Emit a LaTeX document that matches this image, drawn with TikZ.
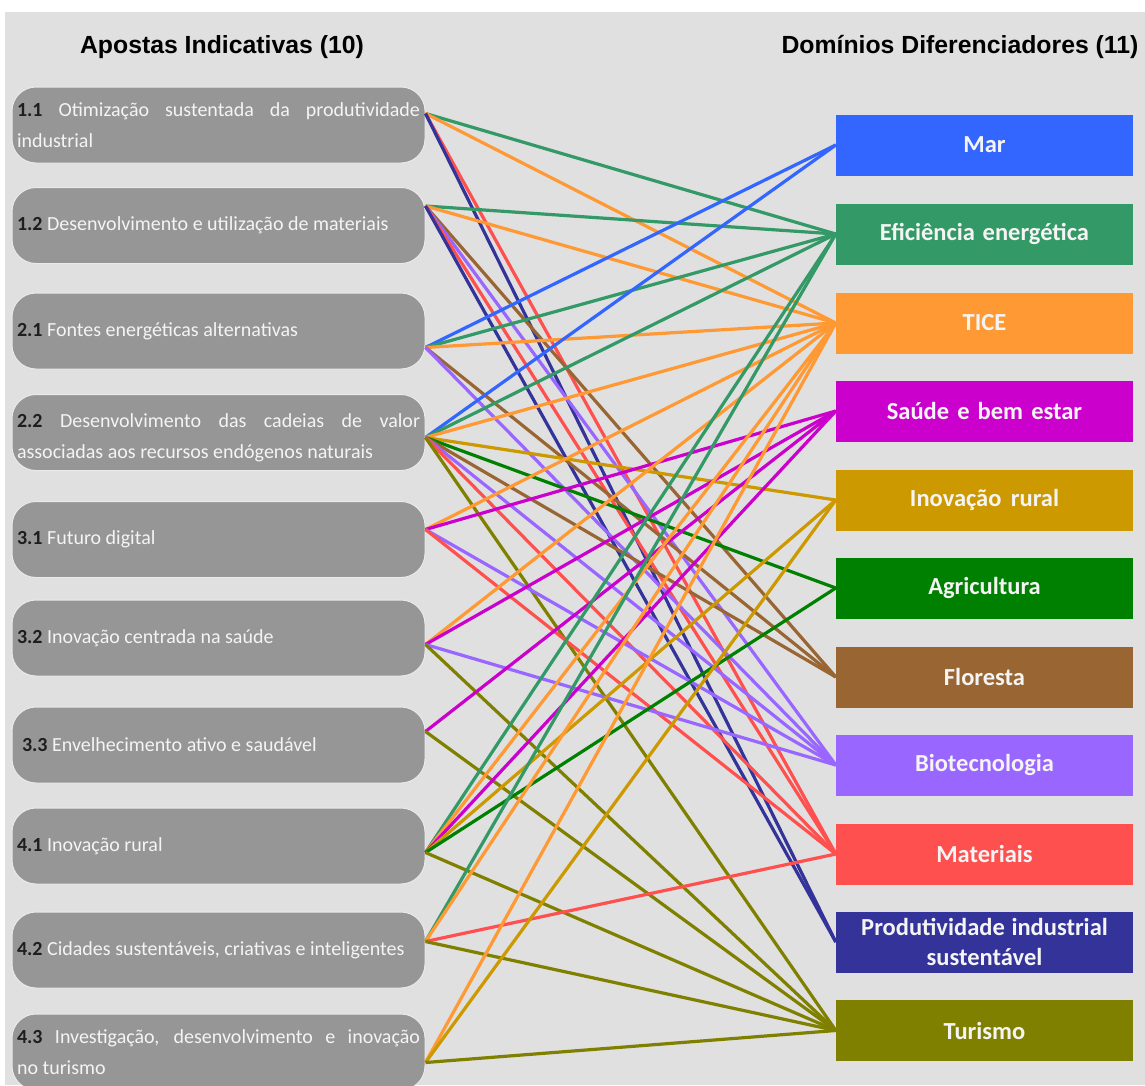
\documentclass[tikz,border=0pt]{standalone}
\usepackage{fontspec}
\setmainfont{Carlito}
\newfontfamily\headfont{Liberation Sans}

% palette
\definecolor{bgcol}{HTML}{E0E0E0}
\definecolor{boxgray}{HTML}{969696}
\definecolor{numcol}{HTML}{1E1E1E}
\definecolor{txtwhite}{HTML}{F4F4F4}
\definecolor{colmar}{HTML}{3366FF}
\definecolor{colefi}{HTML}{339966}
\definecolor{coltice}{HTML}{FF9933}
\definecolor{colsaude}{HTML}{CC00CC}
\definecolor{colinov}{HTML}{CC9900}
\definecolor{colagri}{HTML}{008000}
\definecolor{colflor}{HTML}{996633}
\definecolor{colbio}{HTML}{9966FF}
\definecolor{colmat}{HTML}{FF5050}
\definecolor{colprod}{HTML}{333399}
\definecolor{coltur}{HTML}{808000}

\newcommand{\num}[1]{\textcolor{numcol}{\bfseries #1}}
% restore the font's own (stretchable) interword glue inside nodes
\newcommand{\natspace}{\spaceskip=0pt\xspaceskip=0pt\relax}

\begin{document}
\begin{tikzpicture}[x=1pt,y=-1pt,
  apbox/.style={rectangle, rounded corners=24pt, fill=boxgray,
    draw=white!80!boxgray, line width=1pt,
    minimum width=413pt, minimum height=76pt, text width=403pt,
    inner xsep=5pt, inner ysep=0pt, align=left, text=txtwhite,
    font=\fontsize{20}{31}\selectfont,
    execute at begin node=\natspace},
  dombox/.style={rectangle, minimum width=297pt, minimum height=61pt,
    text width=287pt, inner sep=0pt, align=center, text=txtwhite,
    font=\fontsize{24.5}{30}\selectfont\bfseries,
    execute at begin node=\natspace},
  heading/.style={font=\headfont\fontsize{24.8}{28}\selectfont\bfseries, text=black},
  link/.style={line width=3.2pt}]

\useasboundingbox (0,0) rectangle (1145,1085);
\fill[bgcol] (5,12) rectangle (1145,1085);

% column headings
\node[heading] (hleft) at (222,47) {Apostas Indicativas (10)};
\node[heading] (hright) at (960,47) {Domínios Diferenciadores (11)};

% indicative bets (left column)
\node[apbox] (b11) at (218.5,125)
  {\makebox[403pt][s]{\num{1.1} Otimização sustentada da produtividade}\\industrial};
\node[apbox] (b12) at (218.5,225.5) {\num{1.2} Desenvolvimento e utilização de materiais};
\node[apbox] (b21) at (218.5,331) {\num{2.1} Fontes energéticas alternativas};
\node[apbox] (b22) at (218.5,432.5)
  {\makebox[403pt][s]{\rule{0pt}{25pt}\num{2.2} Desenvolvimento das cadeias de valor}\\associadas aos recursos endógenos naturais};
\node[apbox] (b31) at (218.5,539.5) {\num{3.1} Futuro digital};
\node[apbox] (b32) at (218.5,638) {\num{3.2} Inovação centrada na saúde};
\node[apbox] (b33) at (218.5,745) {\hspace*{5pt}\num{3.3} Envelhecimento ativo e saudável};
\node[apbox] (b41) at (218.5,846) {\num{4.1} Inovação rural};
\node[apbox] (b42) at (218.5,950) {\num{4.2} Cidades sustentáveis, criativas e inteligentes};
\node[apbox] (b43) at (218.5,1052)
  {\makebox[403pt][s]{\num{4.3} Investigação, desenvolvimento e inovação}\\no turismo};

% differentiating domains (right column)
\node[dombox, fill=colmar]   (dmar)   at (984.5,145)   {Mar};
\node[dombox, fill=colefi]   (defi)   at (984.5,234)   {Eficiência energética};
\node[dombox, fill=coltice]  (dtice)  at (984.5,323)   {TICE};
\node[dombox, fill=colsaude] (dsaude) at (984.5,411)   {Saúde e bem estar};
\node[dombox, fill=colinov]  (dinov)  at (984.5,500)   {Inovação rural};
\node[dombox, fill=colagri]  (dagri)  at (984.5,588)   {Agricultura};
\node[dombox, fill=colflor]  (dflor)  at (984.5,677)   {Floresta};
\node[dombox, fill=colbio]   (dbio)   at (984.5,765)   {Biotecnologia};
\node[dombox, fill=colmat]   (dmat)   at (984.5,854)   {Materiais};
\node[dombox, fill=colprod]  (dprod)  at (984.5,942)   {Produtividade industrial\\sustentável};
\node[dombox, fill=coltur]   (dtur)   at (984.5,1030.5){Turismo};

% departure points on the right edge of each bet
\coordinate (s11) at ([yshift=-27pt]b11.north east);
\coordinate (s12) at ([yshift=-19pt]b12.north east);
\coordinate (s21) at ([yshift=-55pt]b21.north east);
\coordinate (s22) at ([yshift=-43.5pt]b22.north east);
\coordinate (s31) at ([yshift=-28.5pt]b31.north east);
\coordinate (s32) at ([yshift=-45pt]b32.north east);
\coordinate (s33) at ([yshift=-25pt]b33.north east);
\coordinate (s41) at ([yshift=-45pt]b41.north east);
\coordinate (s42) at ([yshift=-30pt]b42.north east);
\coordinate (s43) at ([yshift=-49pt]b43.north east);

% bet -> domain links, coloured by domain
\foreach \s/\t in {
  11/efi, 11/tice, 11/mat, 11/prod,
  12/efi, 12/tice, 12/flor, 12/bio, 12/mat, 12/prod,
  21/mar, 21/efi, 21/tice, 21/flor, 21/bio,
  22/mar, 22/efi, 22/tice, 22/inov, 22/agri, 22/flor, 22/bio, 22/mat, 22/tur,
  31/tice, 31/saude, 31/bio, 31/mat,
  32/tice, 32/saude, 32/bio, 32/tur,
  33/saude, 33/tur,
  41/efi, 41/tice, 41/saude, 41/inov, 41/agri, 41/tur,
  42/efi, 42/tice, 42/mat, 42/tur,
  43/tice, 43/inov, 43/tur}
  \draw[link, col\t] (s\s) -- (d\t.west);

\end{tikzpicture}
\end{document}
